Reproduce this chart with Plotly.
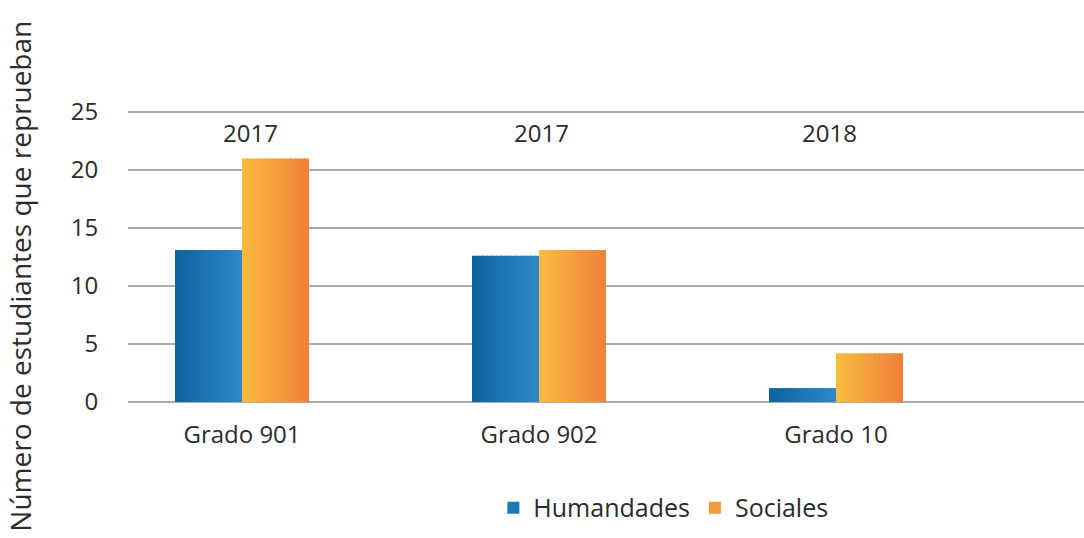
import plotly.graph_objects as go

categories = ["Grado 901", "Grado 902", "Grado 10"]
years = ["2017", "2017", "2018"]
humandades = [13.1, 12.6, 1.2]
sociales = [21.0, 13.1, 4.2]
yticks = [0, 5, 10, 15, 20, 25]

# gradient stops (left -> right) for each series
blue_stops = ((14, 100, 160), (46, 134, 200))
orange_stops = ((249, 186, 62), (240, 130, 60))

def lerp(c0, c1, t):
    return "rgb(%d,%d,%d)" % tuple(round(a + (b - a) * t) for a, b in zip(c0, c1))

xpos = list(range(len(categories)))
bar_w = 0.2256
K = 14
step = bar_w / K
fig = go.Figure()

def add_series(name, vals, stops, start):
    for k in range(K):
        t = k / (K - 1)
        fig.add_trace(go.Bar(
            x=xpos, y=vals, name=name,
            width=step + (0.006 if k < K - 1 else 0.0),
            offset=start + k * step,
            marker=dict(color=lerp(stops[0], stops[1], t), line=dict(width=0)),
            showlegend=(k == K // 2), legendgroup=name, hoverinfo="skip",
        ))

add_series("Humandades", humandades, blue_stops, -bar_w)
add_series("Sociales", sociales, orange_stops, 0.0)

font_fam = "Open Sans, Noto Sans, sans-serif"
txt = "#2b2b2b"

annotations = []
shifts = [9, 2, -7]
for i, yr in enumerate(years):
    annotations.append(dict(x=xpos[i], y=23.2, xref="x", yref="y", text=yr,
                            showarrow=False, xshift=shifts[i],
                            font=dict(size=24, color=txt, family=font_fam)))
annotations.append(dict(x=-0.1132, y=0.432, xref="paper", yref="paper",
                        text="Número de estudiantes que reprueban", textangle=-90,
                        showarrow=False, xanchor="center", yanchor="middle",
                        font=dict(size=28, color=txt, family=font_fam)))

fig.update_layout(
    width=1084, height=538,
    margin=dict(l=128, r=0, t=110, b=136),
    paper_bgcolor="white", plot_bgcolor="white",
    barmode="overlay",
    font=dict(family=font_fam, size=24, color=txt),
    xaxis=dict(tickvals=xpos, ticktext=categories, range=[-0.3838, 2.835],
               showgrid=False, zeroline=False, showline=False,
               ticks="outside", ticklen=11, tickcolor="rgba(0,0,0,0)",
               tickfont=dict(size=24, color=txt), fixedrange=True),
    yaxis=dict(tickvals=yticks, range=[0, 25.17], showgrid=True,
               gridcolor="#ababab", gridwidth=2, zeroline=True,
               zerolinecolor="#ababab", zerolinewidth=2, showline=False,
               ticks="outside", ticklen=24, tickcolor="rgba(0,0,0,0)",
               tickfont=dict(size=24, color=txt), fixedrange=True),
    legend=dict(orientation="h", x=0.56, xanchor="center", y=-0.363,
                yanchor="middle", font=dict(size=25, color=txt),
                bgcolor="rgba(0,0,0,0)", itemclick=False),
    annotations=annotations,
)

fig.write_html("out.html", config={"displayModeBar": False},
               post_script="document.body.style.margin='0';document.body.style.overflow='hidden';")
